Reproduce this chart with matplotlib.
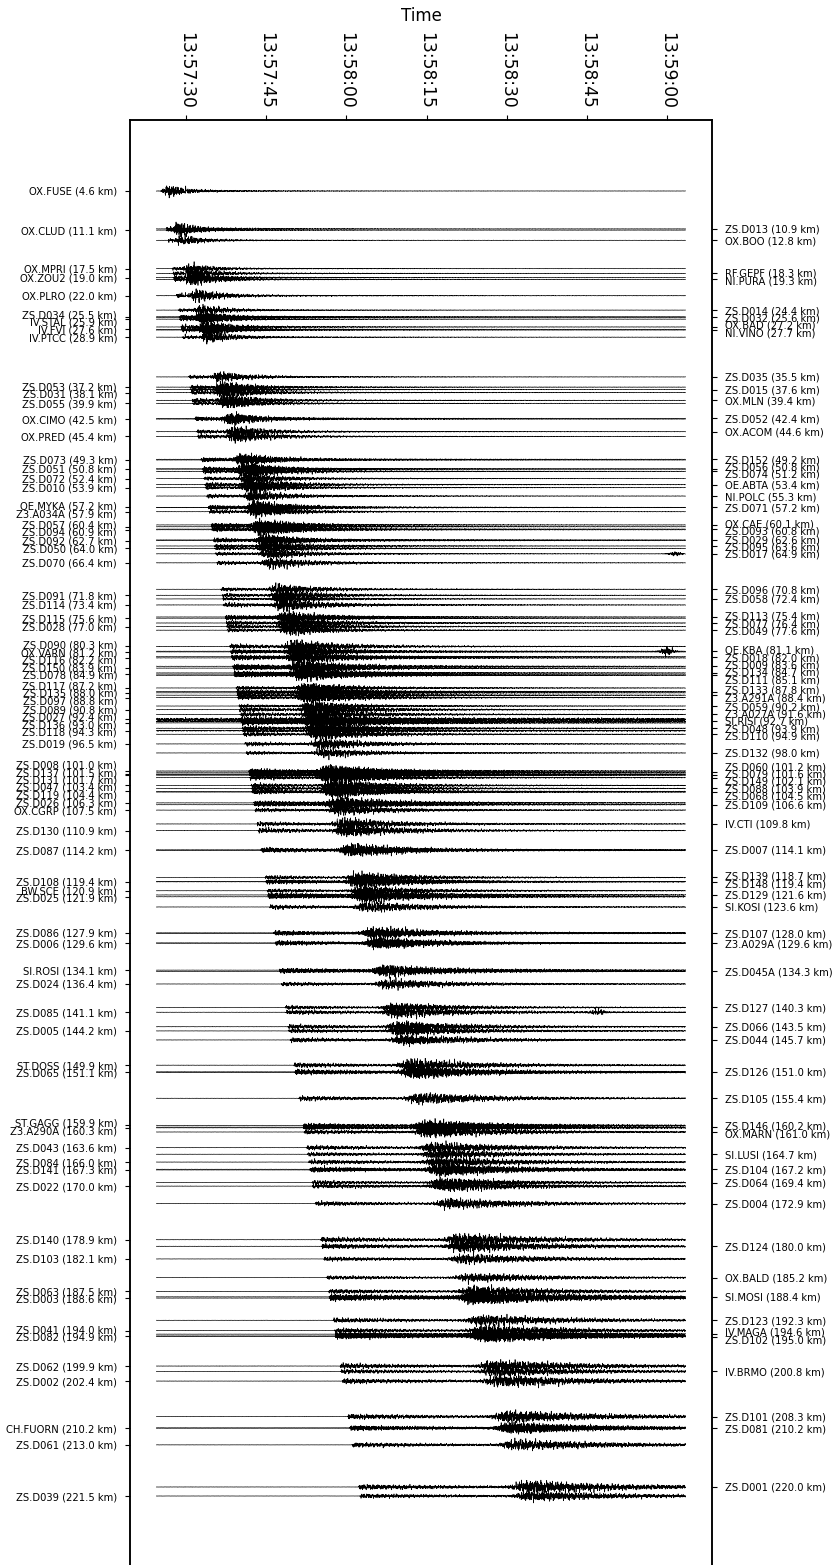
import numpy as np
import matplotlib
matplotlib.use("Agg")
import matplotlib.pyplot as plt
from matplotlib import transforms

# Stations labelled on the left axis: name and epicentral distance (km)
left_names = [
    "OX.FUSE", "OX.CLUD", "OX.MPRI", "OX.ZOU2", "OX.PLRO", "ZS.D034", "IV.STAL",
    "IV.FVI", "IV.PTCC", "ZS.D053", "ZS.D031", "ZS.D055", "OX.CIMO", "OX.PRED",
    "ZS.D073", "ZS.D051", "ZS.D072", "ZS.D010", "OE.MYKA", "Z3.A034A", "ZS.D057",
    "ZS.D094", "ZS.D092", "ZS.D050", "ZS.D070", "ZS.D091", "ZS.D114", "ZS.D115",
    "ZS.D028", "ZS.D090", "OX.VARN", "ZS.D116", "ZS.D150", "ZS.D078", "ZS.D117",
    "ZS.D135", "ZS.D097", "ZS.D089", "ZS.D027", "ZS.D136", "ZS.D118", "ZS.D019",
    "ZS.D008", "ZS.D137", "ZS.D131", "ZS.D047", "ZS.D119", "ZS.D026", "OX.CGRP",
    "ZS.D130", "ZS.D087", "ZS.D108", "BW.SCE", "ZS.D025", "ZS.D086", "ZS.D006",
    "SI.ROSI", "ZS.D024", "ZS.D085", "ZS.D005", "ST.DOSS", "ZS.D065", "ST.GAGG",
    "Z3.A290A", "ZS.D043", "ZS.D084", "ZS.D141", "ZS.D022", "ZS.D140", "ZS.D103",
    "ZS.D063", "ZS.D003", "ZS.D041", "ZS.D082", "ZS.D062", "ZS.D002", "CH.FUORN",
    "ZS.D061", "ZS.D039",
]
left_dist = [
    4.6, 11.1, 17.5, 19.0, 22.0, 25.5, 25.9,
    27.6, 28.9, 37.2, 38.1, 39.9, 42.5, 45.4,
    49.3, 50.8, 52.4, 53.9, 57.2, 57.9, 60.4,
    60.9, 62.7, 64.0, 66.4, 71.8, 73.4, 75.6,
    77.0, 80.3, 81.2, 82.2, 83.9, 84.9, 87.2,
    88.0, 88.8, 90.8, 92.4, 93.0, 94.3, 96.5,
    101.0, 101.5, 101.7, 103.4, 104.4, 106.3, 107.5,
    110.9, 114.2, 119.4, 120.9, 121.9, 127.9, 129.6,
    134.1, 136.4, 141.1, 144.2, 149.9, 151.1, 159.9,
    160.3, 163.6, 166.0, 167.3, 170.0, 178.9, 182.1,
    187.5, 188.6, 194.0, 194.9, 199.9, 202.4, 210.2,
    213.0, 221.5,
]

# Stations labelled on the right axis
right_names = [
    "ZS.D013", "OX.BOO", "RF.GEPF", "NI.PURA", "ZS.D014", "ZS.D032", "OX.BAD",
    "NI.VINO", "ZS.D035", "ZS.D015", "OX.MLN", "ZS.D052", "OX.ACOM", "ZS.D152",
    "ZS.D056", "ZS.D074", "OE.ABTA", "NI.POLC", "ZS.D071", "OX.CAE", "ZS.D093",
    "ZS.D029", "ZS.D095", "ZS.D017", "ZS.D096", "ZS.D058", "ZS.D113", "ZS.D077",
    "ZS.D049", "OE.KBA", "ZS.D018", "ZS.D009", "ZS.D134", "ZS.D111", "ZS.D133",
    "Z3.A291A", "ZS.D059", "Z3.A027A", "SI.RISI", "ZS.D048", "ZS.D110", "ZS.D132",
    "ZS.D060", "ZS.D079", "ZS.D149", "ZS.D088", "ZS.D068", "ZS.D109", "IV.CTI",
    "ZS.D007", "ZS.D139", "ZS.D148", "ZS.D129", "SI.KOSI", "ZS.D107", "Z3.A029A",
    "ZS.D045A", "ZS.D127", "ZS.D066", "ZS.D044", "ZS.D126", "ZS.D105", "ZS.D146",
    "OX.MARN", "SI.LUSI", "ZS.D104", "ZS.D064", "ZS.D004", "ZS.D124", "OX.BALD",
    "SI.MOSI", "ZS.D123", "IV.MAGA", "ZS.D102", "IV.BRMO", "ZS.D101", "ZS.D081",
    "ZS.D001",
]
right_dist = [
    10.9, 12.8, 18.3, 19.3, 24.4, 25.6, 27.2,
    27.7, 35.5, 37.6, 39.4, 42.4, 44.6, 49.2,
    50.8, 51.2, 53.4, 55.3, 57.2, 60.1, 60.8,
    62.6, 63.6, 64.9, 70.8, 72.4, 75.4, 76.4,
    77.6, 81.1, 82.0, 83.6, 84.7, 85.1, 87.8,
    88.4, 90.2, 91.6, 92.7, 93.9, 94.9, 98.0,
    101.2, 101.6, 102.1, 103.9, 104.5, 106.6, 109.8,
    114.1, 118.7, 119.4, 121.6, 123.6, 128.0, 129.6,
    134.3, 140.3, 143.5, 145.7, 151.0, 155.4, 160.2,
    161.0, 164.7, 167.2, 169.4, 172.9, 180.0, 185.2,
    188.4, 192.3, 194.6, 195.0, 200.8, 208.3, 210.2,
    220.0,
]

# Time axis: seconds after 13:57:30
tick_seconds = [0, 15, 30, 45, 60, 75, 90]
tick_labels = ["13:57:30", "13:57:45", "13:58:00", "13:58:15",
               "13:58:30", "13:58:45", "13:59:00"]
trace_start, trace_end = -5.5, 93.4

# Traces with a strong background noise level
noisy_stations = {"ZS.D027": 0.30, "SI.RISI": 0.26, "ZS.D118": 0.10}
# Late transient bursts: station -> (time in s, relative amplitude)
late_bursts = {"OE.KBA": (90.0, 0.9), "ZS.D017": (91.5, 0.45),
               "ZS.D085": (77.0, 0.55)}

# Simple crustal travel-time model for the synthetic section
origin_time = -5.6
depth_km = 4.0
vp, vs = 5.8, 3.25
fs = 50.0
t = np.arange(trace_start, trace_end, 1.0 / fs)

base_freqs = np.array([1.1, 1.9, 2.9, 4.3, 5.9, 7.7, 9.4, 11.3, 13.6, 16.1])


def carrier(k):
    golden = 2.399963
    f = base_freqs * (1.0 + 0.045 * np.sin(k * 1.37 + np.arange(base_freqs.size)))
    ph = (np.arange(base_freqs.size) + 1) * (k * golden + 0.61)
    s = np.sin(2 * np.pi * f[:, None] * t[None, :] + ph[:, None]).sum(axis=0)
    return s / np.sqrt(base_freqs.size / 2.0)


def step(tt, t_on, rise):
    return 0.5 * (1.0 + np.tanh((tt - t_on) / rise))


def seismogram(name, dist, k):
    r = np.hypot(dist, depth_km)
    tp = origin_time + r / vp
    ts = origin_time + r / vs
    far = min(dist / 220.0, 1.0)
    noise = noisy_stations.get(name, 0.025)
    a_p = 0.35 + 0.2 * far
    tau_p = 2.0 + 0.8 * (ts - tp)
    tau_s = 3.0 + 10.0 * far
    coda_lvl = 0.18 + 0.2 * far
    tau_c = 18.0 + 30.0 * far
    dt_p = np.clip(t - tp, 0, None)
    dt_s = np.clip(t - ts, 0, None)
    env = (noise
           + a_p * step(t, tp, 0.08) * np.exp(-dt_p / tau_p)
           + step(t, ts, 0.3 + 1.5 * far) * np.exp(-dt_s / tau_s)
           + coda_lvl * step(t, ts, 1.0) * np.exp(-dt_s / tau_c))
    if name in late_bursts:
        tb, ab = late_bursts[name]
        env = env + ab * np.exp(-((t - tb) / 1.2) ** 2)
    w = carrier(k) * env
    return w / np.abs(w).max()


def spread(vals, gap):
    """Shift label positions as little as possible so neighbours keep `gap`."""
    v = np.asarray(vals, float)
    idx = np.argsort(v)
    z = v[idx] - gap * np.arange(v.size)
    blocks = []
    for zi in z:
        blocks.append([zi, 1])
        while len(blocks) > 1 and blocks[-2][0] / blocks[-2][1] > blocks[-1][0] / blocks[-1][1]:
            s, c = blocks.pop()
            blocks[-1][0] += s
            blocks[-1][1] += c
    fit = np.concatenate([[s / c] * c for s, c in blocks])
    out = np.empty_like(v)
    out[idx] = fit + gap * np.arange(v.size)
    return out


names = left_names + right_names
dists = left_dist + right_dist
order = np.argsort(dists)

fig = plt.figure(figsize=(8.33, 15.65), dpi=100)
ax = fig.add_axes([130 / 833, 1 - 1567 / 1565, 582 / 833, 1447 / 1565])

amp_km = 1.15
for k, i in enumerate(order):
    w = seismogram(names[i], dists[i], k)
    ax.plot(t, dists[i] - amp_km * w, color="black", lw=0.5)

span = trace_end - trace_start
ax.set_xlim(trace_start - 0.05 * span, trace_end + 0.05 * span)
ylim = (233.3, -7.2)
ax.set_ylim(ylim)

ax.xaxis.tick_top()
ax.xaxis.set_label_position("top")
ax.set_xticks(tick_seconds)
ax.set_xticklabels(tick_labels, rotation=270, fontsize=12.3)
ax.tick_params(axis="x", pad=4.5)
ax.set_xlabel("Time", fontsize=12, labelpad=7.5)

ax2 = ax.twinx()
ax2.set_ylim(ylim)
ax.set_yticks(left_dist)
ax.set_yticklabels([])
ax2.set_yticks(right_dist)
ax2.set_yticklabels([])

# Station labels, pushed apart where they would collide
km_per_px = (ylim[0] - ylim[1]) / 1447.0
gap_km = 7.4 * km_per_px
label_fs = 7.2
base_l = transforms.blended_transform_factory(ax.transAxes, ax.transData)
tr_left = transforms.offset_copy(base_l, fig=fig, x=-9.3, units="points")
tr_right = transforms.offset_copy(base_l, fig=fig, x=9.3, units="points")
for n, d, y in zip(left_names, left_dist, spread(left_dist, gap_km)):
    ax.text(0, y, f"{n} ({d:.1f} km)", transform=tr_left, ha="right",
            va="center_baseline", fontsize=label_fs)
for n, d, y in zip(right_names, right_dist, spread(right_dist, gap_km)):
    ax.text(1, y, f"{n} ({d:.1f} km)", transform=tr_right, ha="left",
            va="center_baseline", fontsize=label_fs)

for a in (ax, ax2):
    for sp in a.spines.values():
        sp.set_linewidth(1.1)

fig.savefig("out.png", dpi=100)
